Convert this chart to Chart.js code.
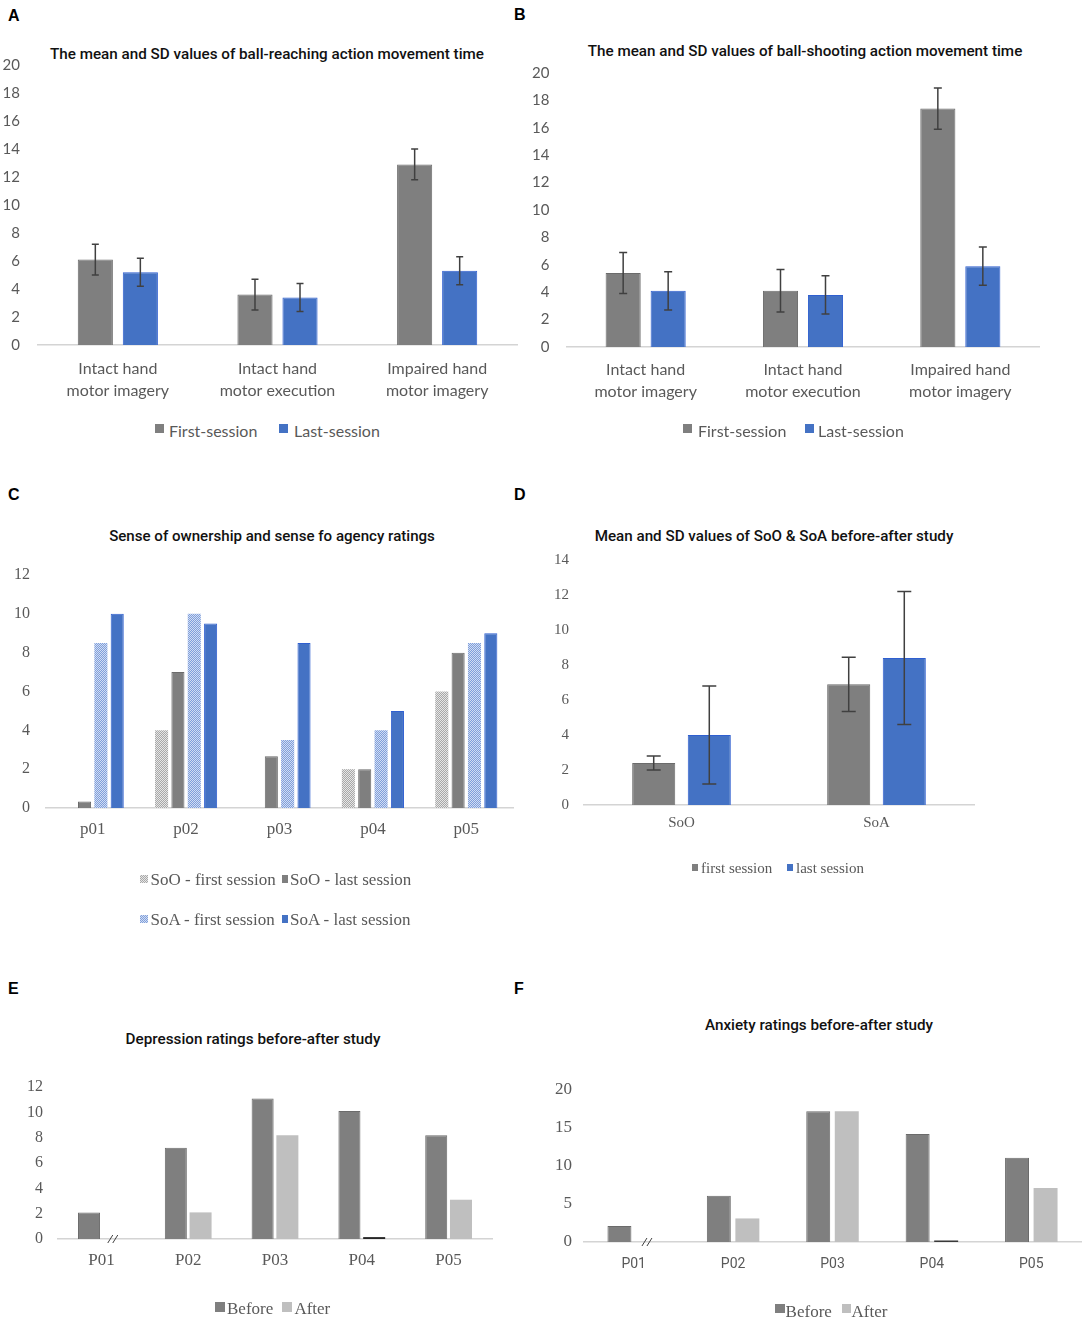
<!DOCTYPE html>
<html>
<head>
<meta charset="utf-8">
<title>Movement time and rating charts</title>
<script src="https://cdn.jsdelivr.net/npm/chart.js@4.4.1/dist/chart.umd.min.js"></script>
<style>
  html, body { margin: 0; background: #fff; }
  #fig { position: relative; width: 1084px; height: 1323px; overflow: hidden; }
  #fig canvas { position: absolute; }
  .txt { position: absolute; white-space: nowrap; line-height: 1; }
  .letter { font: bold 16px "Liberation Sans", Arial, sans-serif; color: #000; }
  .sw { position: absolute; }
</style>
</head>
<body>
<div id="fig"></div>
<script>
// ---- data ----
const handCats = [['Intact hand', 'motor imagery'], ['Intact hand', 'motor execution'], ['Impaired hand', 'motor imagery']];
const sessionNames = ['First-session', 'Last-session'];
const reachFirst = [6.1, 3.6, 12.9];
const reachFirstSd = [1.1, 1.1, 1.1];
const reachLast = [5.2, 3.4, 5.3];
const reachLastSd = [1.0, 1.0, 1.0];
const shootFirst = [5.4, 4.1, 17.4];
const shootFirstSd = [1.5, 1.55, 1.5];
const shootLast = [4.1, 3.8, 5.9];
const shootLastSd = [1.4, 1.4, 1.4];

const pLower = ['p01', 'p02', 'p03', 'p04', 'p05'];
const ratingNames = ['SoO - first session', 'SoO - last session', 'SoA - first session', 'SoA - last session'];
const sooFirst = [0, 4, 0, 2, 6];
const sooLast = [0.33, 7, 2.67, 2, 8];
const soaFirst = [8.5, 10, 3.5, 4, 8.5];
const soaLast = [10, 9.5, 8.5, 5, 9];

const senseCats = ['SoO', 'SoA'];
const senseNames = ['first session', 'last session'];
const senseFirst = [2.4, 6.9];
const senseFirstSd = [0.4, 1.55];
const senseLast = [4.0, 8.4];
const senseLastSd = [2.8, 3.8];

const pUpper = ['P01', 'P02', 'P03', 'P04', 'P05'];
const moodNames = ['Before', 'After'];
const depBefore = [2.1, 7.2, 11.1, 10.1, 8.2];
const depAfter = [0, 2.1, 8.2, 0.15, 3.1];
const anxBefore = [2.1, 6.1, 17.2, 14.2, 11.1];
const anxAfter = [0, 3.1, 17.2, 0.2, 7.1];

// ---- styles ----
const GRAY = '#7f7f7f', GRAY_EDGE = '#6b6b6b';
const BLUE = '#4472c4', BLUE_EDGE = '#2f5fd0';
const LIGHT = '#bfbfbf', LIGHT_EDGE = '#b3b3b3';
const TXT = '#595959';
const SANS = 'Lato, "Open Sans", sans-serif';
const SERIF = '"Liberation Serif", "Times New Roman", serif';
const TITLE = 'Roboto, "DejaVu Sans", sans-serif';
const TOP_PAD = 34;

const fig = document.getElementById('fig');
const measure = document.createElement('canvas').getContext('2d');

function checker(a, b) {
  const c = document.createElement('canvas');
  c.width = 2; c.height = 2;
  const x = c.getContext('2d');
  x.fillStyle = b; x.fillRect(0, 0, 2, 2);
  x.fillStyle = a; x.fillRect(0, 0, 1, 1); x.fillRect(1, 1, 1, 1);
  return x.createPattern(c, 'repeat');
}
const GRAY_DOTS = checker('#a8a8a8', '#e6e6e6');
const BLUE_DOTS = checker('#7f9fdb', '#d2ddf3');

// error bars drawn from the y scale of each chart
const errorBars = {
  id: 'errorBars',
  afterDatasetsDraw(chart, args, opts) {
    const { ctx, scales: { y } } = chart;
    chart.data.datasets.forEach((d, i) => {
      if (!d.errors) return;
      const half = (opts.cap || 8) / 2;
      ctx.save();
      ctx.strokeStyle = '#404040';
      ctx.lineWidth = 1.5;
      chart.getDatasetMeta(i).data.forEach((bar, j) => {
        const hi = y.getPixelForValue(d.data[j] + d.errors[j]);
        const lo = y.getPixelForValue(d.data[j] - d.errors[j]);
        ctx.beginPath();
        ctx.moveTo(bar.x, hi); ctx.lineTo(bar.x, lo);
        ctx.moveTo(bar.x - half, hi); ctx.lineTo(bar.x + half, hi);
        ctx.moveTo(bar.x - half, lo); ctx.lineTo(bar.x + half, lo);
        ctx.stroke();
      });
      ctx.restore();
    });
  }
};

// the little "//" on a missing bar
const breakMarks = {
  id: 'breakMarks',
  afterDatasetsDraw(chart) {
    const { ctx, scales: { y } } = chart;
    chart.data.datasets.forEach((d, i) => {
      if (!d.breaks) return;
      const meta = chart.getDatasetMeta(i);
      ctx.save();
      ctx.strokeStyle = '#404040';
      ctx.lineWidth = 1;
      d.breaks.forEach(j => {
        const x = meta.data[j].x, y0 = y.getPixelForValue(0);
        [-3.5, 1.5].forEach(off => {
          ctx.beginPath();
          ctx.moveTo(x + off - 2.5, y0 + 4);
          ctx.lineTo(x + off + 2.5, y0 - 4);
          ctx.stroke();
        });
      });
      ctx.restore();
    });
  }
};

function addCanvas(box) {
  const c = document.createElement('canvas');
  const w = box.x1 - box.x0 + 73, h = box.zero - box.top + TOP_PAD + 70;
  c.width = w; c.height = h;
  c.style.left = (box.x0 - 70) + 'px';
  c.style.top = (box.top - TOP_PAD) + 'px';
  c.style.width = w + 'px';
  c.style.height = h + 'px';
  fig.appendChild(c);
  return c;
}

function barChart(box, labels, datasets, o) {
  return new Chart(addCanvas(box), {
    type: 'bar',
    data: { labels, datasets },
    options: {
      responsive: false,
      animation: false,
      layout: { padding: { left: 0, top: TOP_PAD, right: 3, bottom: 0 } },
      datasets: { bar: { categoryPercentage: o.cat, barPercentage: o.bar } },
      plugins: { legend: { display: false }, tooltip: { enabled: false }, errorBars: { cap: o.cap } },
      scales: {
        x: {
          grid: { display: true, drawOnChartArea: false, drawTicks: false, color: 'rgba(0,0,0,0)' },
          border: { display: true, color: '#d4d4d4', width: 1.5 },
          ticks: { color: o.xColor || TXT, font: o.xFont, padding: o.xPad, maxRotation: 0, autoSkip: false },
          afterFit: s => { s.height = 70; }
        },
        y: {
          min: 0, max: o.max,
          grid: { display: false, drawTicks: false },
          border: { display: false },
          ticks: { stepSize: o.step, color: TXT, font: o.yFont, padding: o.yPad },
          afterFit: s => { s.width = 70; }
        }
      }
    },
    plugins: [errorBars, breakMarks]
  });
}

function bars(label, data, bg, edge, extra) {
  return Object.assign({ label, data, backgroundColor: bg, borderColor: edge, borderWidth: 1 }, extra || {});
}

function text(str, x, cy, css, cls) {
  const el = document.createElement('div');
  el.className = 'txt ' + (cls || '');
  el.textContent = str;
  el.style.cssText += css;
  el.style.left = x + 'px';
  el.style.top = cy + 'px';
  el.style.transform = 'translateY(-50%)';
  fig.appendChild(el);
  return el;
}

function title(str, cx, cy, width) {
  measure.font = '500 100px ' + TITLE;
  const size = 100 * width / measure.measureText(str).width;
  const el = text(str, cx, cy, `font-family:${TITLE};font-weight:500;font-size:${size.toFixed(2)}px;color:#111;`);
  el.style.transform = 'translate(-50%,-50%)';
}

function letter(str, x, y) {
  const el = document.createElement('div');
  el.className = 'txt letter';
  el.textContent = str;
  el.style.left = x + 'px';
  el.style.top = y + 'px';
  fig.appendChild(el);
}

function swatch(x, cy, w, h, bg) {
  const el = document.createElement('div');
  el.className = 'sw';
  el.style.cssText = `left:${x}px;top:${cy - h / 2}px;width:${w}px;height:${h}px;background:${bg};`;
  fig.appendChild(el);
}

const GRAY_CSS = 'repeating-conic-gradient(#a8a8a8 0 25%, #e6e6e6 0 50%) 0 0 / 2px 2px';
const BLUE_CSS = 'repeating-conic-gradient(#7f9fdb 0 25%, #d2ddf3 0 50%) 0 0 / 2px 2px';

// ---- A ----
letter('A', 8, 7);
title('The mean and SD values of ball-reaching action movement time', 267, 55, 434);
barChart({ x0: 38, x1: 517, top: 65, zero: 345 }, handCats, [
  bars(sessionNames[0], reachFirst, GRAY, GRAY_EDGE, { errors: reachFirstSd }),
  bars(sessionNames[1], reachLast, BLUE, BLUE_EDGE, { errors: reachLastSd })
], { max: 20, step: 2, cat: 0.564, bar: 0.78, cap: 7,
     xFont: { family: SANS, size: 16, lineHeight: 1.375 }, xPad: 12.5,
     yFont: { family: SANS, size: 15 }, yPad: 18 });
swatch(155, 428.5, 9, 9, GRAY);
text(sessionNames[0], 169, 430, `font:16px ${SANS};color:${TXT};`);
swatch(279, 428.5, 9, 9, BLUE);
text(sessionNames[1], 294, 430, `font:16px ${SANS};color:${TXT};`);

// ---- B ----
letter('B', 514, 6);
title('The mean and SD values of ball-shooting action movement time', 805, 52, 435);
barChart({ x0: 567, x1: 1039, top: 73, zero: 347 }, handCats, [
  bars(sessionNames[0], shootFirst, GRAY, GRAY_EDGE, { errors: shootFirstSd }),
  bars(sessionNames[1], shootLast, BLUE, BLUE_EDGE, { errors: shootLastSd })
], { max: 20, step: 2, cat: 0.572, bar: 0.78, cap: 8,
     xFont: { family: SANS, size: 16, lineHeight: 1.375 }, xPad: 11.5,
     yFont: { family: SANS, size: 15 }, yPad: 17.5 });
swatch(683, 428.5, 9, 9, GRAY);
text(sessionNames[0], 698, 430, `font:16px ${SANS};color:${TXT};`);
swatch(805, 428.5, 9, 9, BLUE);
text(sessionNames[1], 818, 430, `font:16px ${SANS};color:${TXT};`);

// ---- C ----
letter('C', 8, 486);
title('Sense of ownership and sense fo agency ratings', 272, 537, 326);
barChart({ x0: 46, x1: 513, top: 575, zero: 808 }, pLower, [
  bars(ratingNames[0], sooFirst, GRAY_DOTS, '#c8c8c8', { borderWidth: 0 }),
  bars(ratingNames[1], sooLast, GRAY, GRAY_EDGE),
  bars(ratingNames[2], soaFirst, BLUE_DOTS, '#a9bfe8', { borderWidth: 0 }),
  bars(ratingNames[3], soaLast, BLUE, BLUE_EDGE)
], { max: 12, step: 2, cat: 0.70, bar: 0.8,
     xFont: { family: SERIF, size: 17 }, xPad: 11,
     yFont: { family: SERIF, size: 16 }, yPad: 16 });
[[880, 0, 1], [920, 2, 3]].forEach(([cy, a, b]) => {
  swatch(139.5, cy - 1, 8.5, 8.5, a === 0 ? GRAY_CSS : BLUE_CSS);
  text(ratingNames[a], 150.5, cy, `font:17px ${SERIF};color:${TXT};`);
  swatch(281.5, cy - 1, 6.5, 8.5, b === 1 ? GRAY : BLUE);
  text(ratingNames[b], 290, cy, `font:17px ${SERIF};color:${TXT};`);
});

// ---- D ----
letter('D', 514, 486);
title('Mean and SD values of SoO & SoA before-after study', 774, 537, 359);
barChart({ x0: 584, x1: 974, top: 560, zero: 805 }, senseCats, [
  bars(senseNames[0], senseFirst, GRAY, GRAY_EDGE, { errors: senseFirstSd }),
  bars(senseNames[1], senseLast, BLUE, BLUE_EDGE, { errors: senseLastSd })
], { max: 14, step: 2, cat: 0.57, bar: 0.775, cap: 14,
     xFont: { family: SERIF, size: 15 }, xPad: 9.3,
     yFont: { family: SERIF, size: 15 }, yPad: 15 });
swatch(692, 867, 5.5, 7, GRAY);
text(senseNames[0], 701, 868, `font:15px ${SERIF};color:${TXT};`);
swatch(787, 867, 5.5, 7, BLUE);
text(senseNames[1], 796, 868, `font:15px ${SERIF};color:${TXT};`);

// ---- E ----
letter('E', 8, 980);
title('Depression ratings before-after study', 253, 1040, 255);
barChart({ x0: 58, x1: 492, top: 1087, zero: 1239 }, pUpper, [
  bars(moodNames[0], depBefore, GRAY, GRAY_EDGE),
  bars(moodNames[1], depAfter, [LIGHT, LIGHT, LIGHT, '#262626', LIGHT], LIGHT_EDGE, { borderWidth: 0, breaks: [0] })
], { max: 12, step: 2, cat: 0.57, bar: 0.89,
     xFont: { family: SERIF, size: 17 }, xPad: 11.8,
     yFont: { family: SERIF, size: 16 }, yPad: 15 });
swatch(215, 1306.7, 10, 10, GRAY);
text(moodNames[0], 227, 1309, `font:17px ${SERIF};color:${TXT};`);
swatch(282, 1306.7, 10, 10, LIGHT);
text(moodNames[1], 294.4, 1309, `font:17px ${SERIF};color:${TXT};`);

// ---- F ----
letter('F', 514, 980);
title('Anxiety ratings before-after study', 819, 1026, 228);
barChart({ x0: 584, x1: 1081, top: 1090, zero: 1242 }, pUpper, [
  bars(moodNames[0], anxBefore, GRAY, GRAY_EDGE),
  bars(moodNames[1], anxAfter, [LIGHT, LIGHT, LIGHT, '#3a3a3a', LIGHT], LIGHT_EDGE, { borderWidth: 0, breaks: [0] })
], { max: 20, step: 5, cat: 0.574, bar: 0.84,
     xFont: { family: TITLE, size: 14 }, xPad: 14.4,
     yFont: { family: SERIF, size: 17 }, yPad: 12 });
swatch(775, 1308.5, 9.5, 9, GRAY);
text(moodNames[0], 785.6, 1312, `font:17px ${SERIF};color:${TXT};`);
swatch(842, 1308.5, 9, 9, LIGHT);
text(moodNames[1], 851.6, 1312, `font:17px ${SERIF};color:${TXT};`);
</script>
</body>
</html>
